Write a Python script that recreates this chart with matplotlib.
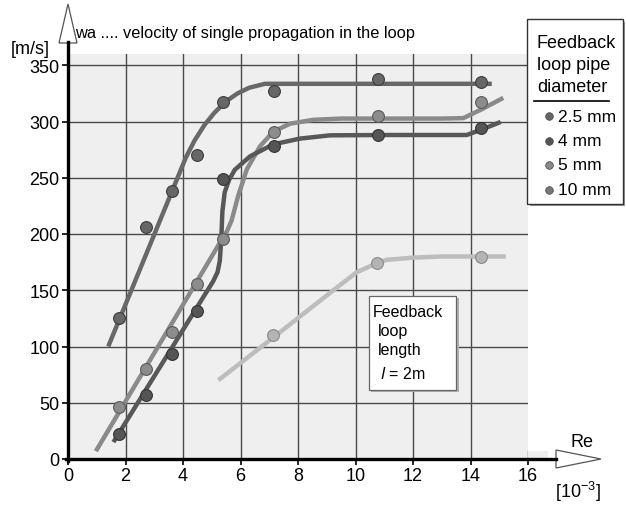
import matplotlib
matplotlib.use("Agg")
import matplotlib.pyplot as plt
from matplotlib.patches import Polygon, Rectangle
from matplotlib.lines import Line2D

plt.rcParams['font.family'] = ['Liberation Sans', 'DejaVu Sans']

W, H = 626, 506

# fitted curves (Re in 10^3, velocity in m/s)
a_x = [1.40, 4.1, 4.4, 4.75, 5.1, 5.5, 5.9, 6.3, 6.85, 8.0, 10.0, 12.0, 14.74]
a_y = [100, 268, 283, 297, 308, 318, 325, 330, 333.5, 333.5, 333.5, 333.5, 333.5]

b_x = [1.58, 4.66, 5.05, 5.2, 5.28, 5.33, 5.37, 5.45, 5.6, 5.8, 6.33, 7.14, 8.07,
       9.11, 11.0, 13.0, 13.87, 14.5, 15.05]
b_y = [15, 142, 158, 166, 176, 195, 220, 237, 248, 257, 269, 279.7, 284.8,
       287.7, 288, 288, 288, 294, 299.6]

c_x = [0.97, 5.3, 5.52, 5.69, 5.92, 6.22, 6.68, 7.14, 7.72, 8.53,
       9.5, 11.0, 13.0, 13.75, 14.4, 15.14]
c_y = [7, 193, 202, 212, 234, 257.5, 278, 291, 298, 301.5,
       302.6, 302.6, 302.6, 303, 311, 321]

d_x = [5.23, 7.14, 9.23, 10.04, 10.74, 11.08, 12.01, 13.0, 14.37, 15.23]
d_y = [70, 108, 150, 166, 174, 177, 179, 180, 180, 180]

# measured points
pa_x = [1.78, 2.70, 3.60, 4.48, 5.38, 7.17, 10.77, 14.37]
pa_y = [125, 206, 238, 270, 317, 327, 338, 335]
pb_x = [1.78, 2.70, 3.60, 4.48, 5.40, 7.17, 10.77, 14.37]
pb_y = [22, 57, 93, 132, 249, 278, 288, 294]
pc_x = [1.78, 2.70, 3.60, 4.48, 5.38, 7.17, 10.77, 14.37]
pc_y = [46, 80, 113, 156, 196, 291, 305, 317]
pd_x = [7.14, 10.74, 14.37]
pd_y = [110, 174, 180]

diameters = ['2.5 mm', '4 mm', '5 mm', '10 mm']
legend_colors = ['#666666', '#555555', '#8a8a8a', '#777777']

x_ticks = [0, 2, 4, 6, 8, 10, 12, 14, 16]
y_ticks = [0, 50, 100, 150, 200, 250, 300, 350]


def P(x, y):
    # pixel position (top-left origin) -> figure fraction
    return (x / W, 1 - y / H)


fig = plt.figure(figsize=(W / 100, H / 100), dpi=100)
fig.patch.set_facecolor('white')
ax = fig.add_axes([68 / W, 46 / H, 460 / W, 405 / H])
ax.set_facecolor('#efefef')
ax.set_xlim(0, 16)
ax.set_ylim(0, 360)
for s in ax.spines.values():
    s.set_visible(False)

# grid
for yv in y_ticks[1:]:
    ax.axhline(yv, color='#4a4a4a', lw=1.0, zorder=1)
for xv in x_ticks[1:-1]:
    ax.axvline(xv, color='#4a4a4a', lw=1.0, zorder=1)
ax.plot([16, 16], [0, 7], color='#4a4a4a', lw=1.0, zorder=1)

ax.set_xticks(x_ticks)
ax.set_yticks(y_ticks)
ax.tick_params(labelsize=13, length=4, width=1.2, pad=2, colors='black')

# curves
lw = 3.2
for xs, ys, col in [(d_x, d_y, '#bdbdbd'), (c_x, c_y, '#8a8a8a'),
                    (b_x, b_y, '#585858'), (a_x, a_y, '#686868')]:
    ax.plot(xs, ys, color=col, lw=lw, solid_capstyle='butt',
            solid_joinstyle='round', zorder=3)

ms = 8.5
ax.plot(pd_x, pd_y, 'o', ms=ms, color='#b4b4b4', mec='#8a8a8a', mew=0.8, zorder=4)
ax.plot(pc_x, pc_y, 'o', ms=ms, color='#8c8c8c', mec='#5a5a5a', mew=0.8, zorder=4)
ax.plot(pb_x, pb_y, 'o', ms=ms, color='#555555', mec='#333333', mew=0.8, zorder=4)
ax.plot(pa_x, pa_y, 'o', ms=ms, color='#676767', mec='#3c3c3c', mew=0.8, zorder=4)

# axes lines with open arrow heads
fig.add_artist(Line2D(*zip(P(68, 462), P(68, 43)), color='black', lw=2.4,
                      transform=fig.transFigure))
fig.add_artist(Line2D(*zip(P(66, 460), P(556, 460)), color='black', lw=2.4,
                      transform=fig.transFigure))
fig.add_artist(Rectangle(P(528, 460), 20 / W, 8 / H, facecolor='#efefef',
                         edgecolor='none', transform=fig.transFigure, zorder=0.5))
fig.add_artist(Polygon([P(59, 44), P(68, 5), P(77, 44)], closed=True,
                       facecolor='white', edgecolor='#555555', lw=0.9,
                       transform=fig.transFigure))
fig.add_artist(Polygon([P(556, 451), P(601, 460), P(556, 469)], closed=True,
                       facecolor='white', edgecolor='#555555', lw=0.9,
                       transform=fig.transFigure))

fig.text(*P(11, 54), '[m/s]', fontsize=13, va='baseline', ha='left')
fig.text(*P(75, 38), 'wa .... velocity of single propagation in the loop',
         fontsize=11.8, va='baseline', ha='left')
fig.text(*P(570, 447), 'Re', fontsize=13, va='baseline', ha='left')
fig.text(*P(555, 498), r'[10$^{\mathregular{-3}}$]', fontsize=13,
         va='baseline', ha='left')

# diameter legend
fig.add_artist(Rectangle(P(530, 207), 95 / W, 184 / H, facecolor='#9a9a9a',
                         edgecolor='none', transform=fig.transFigure))
fig.add_artist(Rectangle(P(527, 205), 96 / W, 185 / H, facecolor='white',
                         edgecolor='#333333', lw=1.0, transform=fig.transFigure))
for i, line in enumerate(['Feedback', 'loop pipe', 'diameter']):
    fig.text(*P(537, 48 + i * 22), line, fontsize=13, va='baseline', ha='left')
fig.add_artist(Line2D(*zip(P(534, 102), P(609, 102)), color='black', lw=1.2,
                      transform=fig.transFigure))
for i, (lab, col) in enumerate(zip(diameters, legend_colors)):
    yc = 117 + i * 24.5
    fig.add_artist(Line2D([549 / W], [1 - yc / H], marker='o', ms=5.5, color=col,
                          mec='#444444', mew=0.5, transform=fig.transFigure))
    fig.text(*P(558, yc), lab, fontsize=12.5, va='center', ha='left')

# loop length box
fig.add_artist(Rectangle(P(371, 393), 88 / W, 94 / H, facecolor='#b0b0b0',
                         edgecolor='none', transform=fig.transFigure, zorder=5))
fig.add_artist(Rectangle(P(369, 391), 87 / W, 94 / H, facecolor='white',
                         edgecolor='#666666', lw=0.9, transform=fig.transFigure, zorder=5))
fig.text(*P(373, 317), 'Feedback', fontsize=11.5, va='baseline', ha='left', zorder=6)
fig.text(*P(378, 336), 'loop', fontsize=11.5, va='baseline', ha='left', zorder=6)
fig.text(*P(378, 355), 'length', fontsize=11.5, va='baseline', ha='left', zorder=6)
fig.text(*P(380, 379), r'$\mathit{l}$ = 2m', fontsize=11.5, va='baseline', ha='left', zorder=6)

fig.savefig('out.png', dpi=100)
